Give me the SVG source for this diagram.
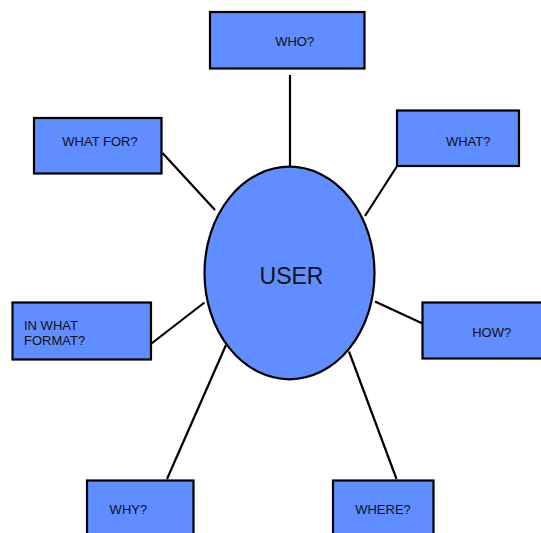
<svg xmlns="http://www.w3.org/2000/svg" width="541" height="533" viewBox="0 0 541 533">
<style>
.box{fill:#608dff;stroke:#000;stroke-width:2.2}
.lbl{font-family:"Liberation Sans",Arial,sans-serif;font-size:13px;fill:#111}
.conn line{stroke:#000;stroke-width:2.2}
</style>
<rect width="541" height="533" fill="#fff"/>
<g class="conn">
<line x1="290" y1="75" x2="290" y2="167"/>
<line x1="162.5" y1="153" x2="215" y2="210"/>
<line x1="396.5" y1="167" x2="365" y2="216"/>
<line x1="151.5" y1="343.5" x2="204.5" y2="302.5"/>
<line x1="375" y1="301.5" x2="422.5" y2="323.5"/>
<line x1="167" y1="479" x2="226" y2="345"/>
<line x1="396.5" y1="479" x2="349" y2="351.5"/>
</g>
<g id="user">
<ellipse class="box" cx="289.5" cy="273" rx="85" ry="106.3"/>
<text class="lbl" x="291.5" y="284" text-anchor="middle" style="font-size:23px">USER</text>
</g>
<g id="who">
<rect class="box" x="210" y="12" width="154.5" height="56.5"/>
<text class="lbl" x="294.7" y="45.5" text-anchor="middle">WHO?</text>
</g>
<g id="whatfor">
<rect class="box" x="34" y="118" width="127.5" height="55.5"/>
<text class="lbl" x="100" y="146" text-anchor="middle">WHAT FOR?</text>
</g>
<g id="what">
<rect class="box" x="397" y="110.5" width="122" height="55.5"/>
<text class="lbl" x="468.2" y="145.5" text-anchor="middle">WHAT?</text>
</g>
<g id="format">
<rect class="box" x="12.5" y="302.5" width="138.5" height="57"/>
<text class="lbl" x="24" y="329.5">IN WHAT</text>
<text class="lbl" x="24" y="345">FORMAT?</text>
</g>
<g id="how">
<rect class="box" x="422.5" y="302.5" width="125" height="56"/>
<text class="lbl" x="491.7" y="337" text-anchor="middle">HOW?</text>
</g>
<g id="why">
<rect class="box" x="87" y="480.5" width="106.5" height="60"/>
<text class="lbl" x="128.4" y="514" text-anchor="middle">WHY?</text>
</g>
<g id="where">
<rect class="box" x="333" y="480.5" width="100.5" height="60"/>
<text class="lbl" x="383" y="514" text-anchor="middle">WHERE?</text>
</g>
</svg>
